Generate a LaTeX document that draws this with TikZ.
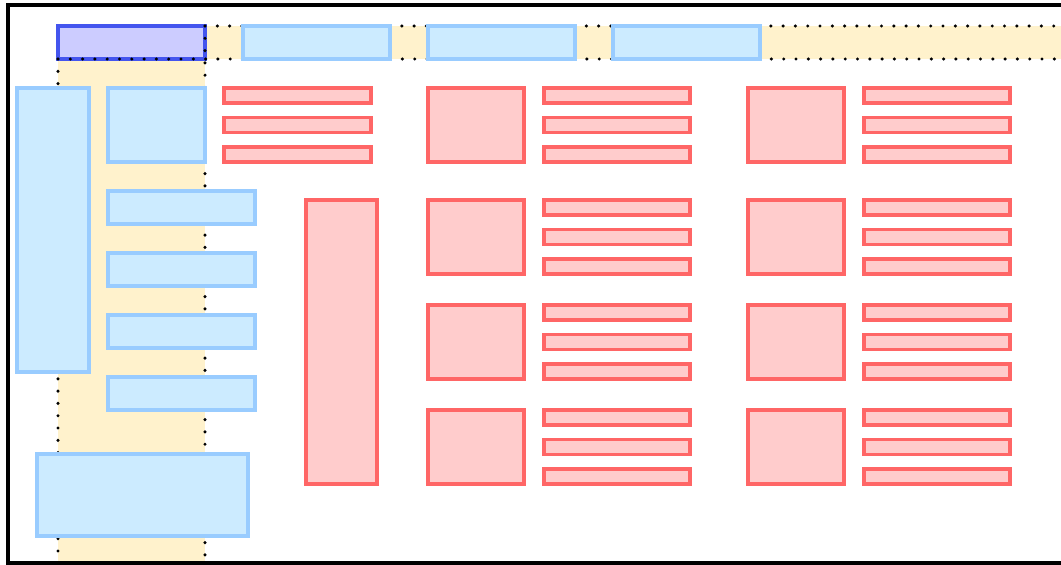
\documentclass[tikz,border=0pt]{standalone}
\usepackage{xcolor}
\definecolor{bandyellow}{HTML}{FFF2CC}
\definecolor{bluefill}{HTML}{CCEBFF}
\definecolor{bluestroke}{HTML}{99CCFF}
\definecolor{purplefill}{HTML}{CCCCFF}
\definecolor{purplestroke}{HTML}{4455EE}
\definecolor{redfill}{HTML}{FFCCCC}
\definecolor{redstroke}{HTML}{FF6666}
\begin{document}
\begin{tikzpicture}[x=1pt,y=-1pt,
  box/.style={rectangle,anchor=north west,inner sep=0pt,outer sep=0pt,line width=3.2pt},
  bluebox/.style={box,draw=bluestroke,fill=bluefill},
  redbox/.style={box,draw=redstroke,fill=redfill},
  purplebox/.style={box,draw=purplestroke,fill=purplefill},
  dotline/.style={line width=3.4pt,line cap=round,dash pattern=on 0pt off 12.3pt},
  frame/.style={draw=black,line width=3.4pt}
]
\useasboundingbox (0,0) rectangle (1061,565);
\begin{scope}
\clip (0,0) rectangle (1061,565);
% yellow bands
\fill[bandyellow] (58,26) rectangle (1075,59);
\fill[bandyellow] (58,26) rectangle (205,575);
% purple header box
\node[purplebox,minimum width=147pt,minimum height=33pt] (hdr) at (58,26) {};
% dotted band borders
\coordinate (b1) at (205,26);
\coordinate (b2) at (1075,26);
\coordinate (b3) at (58,59);
\coordinate (b4) at (1075,59);
\coordinate (b5) at (58,575);
\coordinate (b6) at (205,575);
\draw[dotline] (b1) -- (b2);
\draw[dotline] (b3) -- (b4);
\draw[dotline] (b3) -- (b5);
\draw[dotline] (b1) -- (b6);
% top blue boxes
\node[bluebox,minimum width=147pt,minimum height=33pt] (t1) at (243,26) {};
\node[bluebox,minimum width=147pt,minimum height=33pt] (t2) at (428,26) {};
\node[bluebox,minimum width=147pt,minimum height=33pt] (t3) at (613,26) {};
% left column blue boxes
\node[bluebox,minimum width=72pt,minimum height=284pt] (lt) at (17,88) {};
\node[bluebox,minimum width=97pt,minimum height=74pt] (ls) at (108,88) {};
\node[bluebox,minimum width=147pt,minimum height=33pt] (l1) at (108,191) {};
\node[bluebox,minimum width=147pt,minimum height=33pt] (l2) at (108,253) {};
\node[bluebox,minimum width=147pt,minimum height=33pt] (l3) at (108,315) {};
\node[bluebox,minimum width=147pt,minimum height=33pt] (l4) at (108,377) {};
\node[bluebox,minimum width=211pt,minimum height=82pt] (lb) at (37,454) {};
% red bars next to the small blue box
\node[redbox,minimum width=147pt,minimum height=15pt] (s1) at (224,88) {};
\node[redbox,minimum width=147pt,minimum height=15pt] (s2) at (224,117.5) {};
\node[redbox,minimum width=147pt,minimum height=15pt] (s3) at (224,147) {};
% tall red box
\node[redbox,minimum width=71pt,minimum height=284pt] (rt) at (306,200) {};
% grid
\foreach \c/\xs/\xb in {a/428/544, b/748/864}{
  \foreach \r/\y in {1/88, 2/200, 3/305, 4/410}{
    \node[redbox,minimum width=96pt,minimum height=74pt] (sq\c\r) at (\xs,\y) {};
    \node[redbox,minimum width=146pt,minimum height=15pt] (br\c\r x) at (\xb,\y) {};
    \node[redbox,minimum width=146pt,minimum height=15pt] (br\c\r y) at (\xb,\y+29.5) {};
    \node[redbox,minimum width=146pt,minimum height=15pt] (br\c\r z) at (\xb,\y+59) {};
  }
}
% outer frame
\draw[frame] (8,5) rectangle (1075,563);
\end{scope}
\end{tikzpicture}
\end{document}
